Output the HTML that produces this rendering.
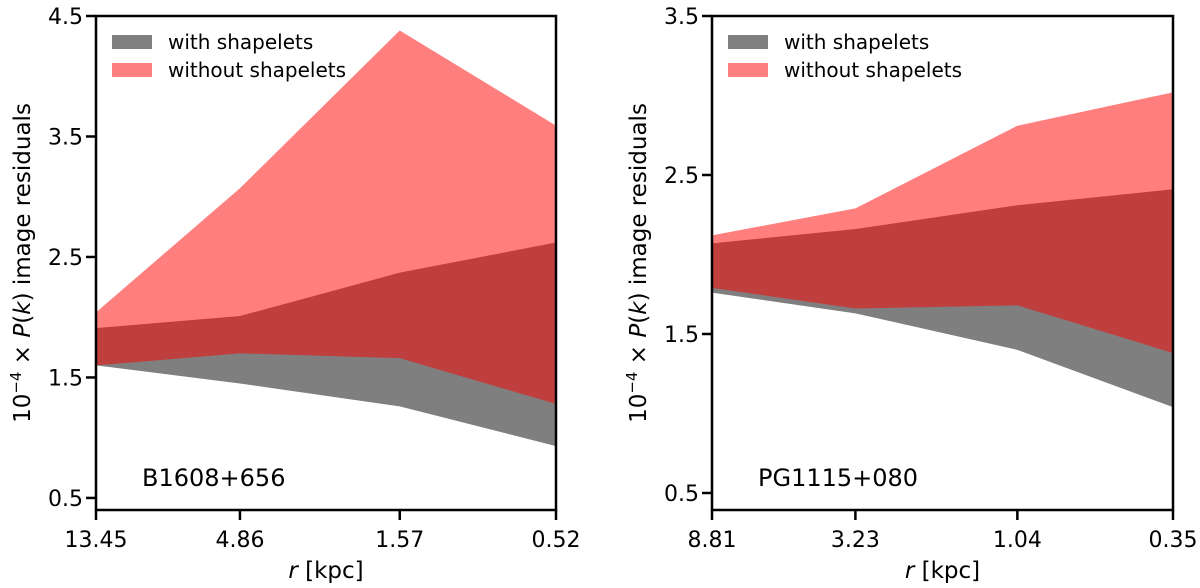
<!DOCTYPE html>
<html><head><meta charset="utf-8">
<style>
body{margin:0;background:#fff;}
svg{display:block;font-family:"DejaVu Sans","Liberation Sans",sans-serif;}
</style></head>
<body>
<svg id="c" width="1200" height="588"></svg>
<script>
// Left panel data (B1608+656)
const leftCategories = [13.45, 4.86, 1.57, 0.52];
const leftWithUpper = [1.91, 2.01, 2.37, 2.62];
const leftWithLower = [1.60, 1.45, 1.26, 0.93];
const leftWithoutUpper = [2.04, 3.07, 4.38, 3.59];
const leftWithoutLower = [1.60, 1.70, 1.66, 1.28];
const leftYTicks = [0.5, 1.5, 2.5, 3.5, 4.5];
// Right panel data (PG1115+080)
const rightCategories = [8.81, 3.23, 1.04, 0.35];
const rightWithUpper = [2.07, 2.16, 2.31, 2.41];
const rightWithLower = [1.76, 1.63, 1.40, 1.04];
const rightWithoutUpper = [2.12, 2.29, 2.81, 3.02];
const rightWithoutLower = [1.79, 1.66, 1.68, 1.38];
const rightYTicks = [0.5, 1.5, 2.5, 3.5];

const NS = "http://www.w3.org/2000/svg";
const svg = document.getElementById('c');
function mk(tag, attrs, parent){
  const e = document.createElementNS(NS, tag);
  for (const k in attrs) e.setAttribute(k, attrs[k]);
  (parent||svg).appendChild(e);
  return e;
}
function panel(cfg){
  const g = mk('g', {});
  
  
  const L=cfg.x0, R=cfg.x1, T=16, B=510;
  const lmax=Math.log10(cfg.cats[0]), lmin=Math.log10(cfg.cats[cfg.cats.length-1]);
  const xs = v => L + (lmax-Math.log10(v))/(lmax-lmin)*(R-L);
  const ys = v => T + (cfg.ymax - v)/(cfg.ymax-cfg.ymin)*(B-T);
  function band(up, lo, fill, nm){
    let pts = cfg.cats.map((c,i)=>xs(c)+','+ys(up[i]));
    pts = pts.concat(cfg.cats.map((c,i)=>xs(c)+','+ys(lo[i])).reverse());
    const p = mk('polygon', {points: pts.join(' '), fill: fill}, g);
    
    
  }
  band(cfg.wu, cfg.wl, 'rgba(0,0,0,0.5)', 'with-shapelets-band');
  band(cfg.wou, cfg.wol, 'rgba(255,0,0,0.5)', 'without-shapelets-band');
  const frame = mk('rect', {x:L, y:T, width:R-L, height:B-T, fill:'none', stroke:'#000', 'stroke-width':2.5}, g);
  
  
  cfg.yt.forEach(v=>{
    const y = ys(v);
    mk('line', {x1:L-10, x2:L, y1:y, y2:y, stroke:'#000', 'stroke-width':2.5}, g);
    const t = mk('text', {x:L-13, y:y+8, 'font-size':22, 'text-anchor':'end'}, g);
    t.textContent = v.toFixed(1);
    
    
  });
  cfg.cats.forEach(v=>{
    const x = xs(v);
    mk('line', {x1:x, x2:x, y1:B, y2:B+10, stroke:'#000', 'stroke-width':2.5}, g);
    const t = mk('text', {x:x, y:B+37, 'font-size':22, 'text-anchor':'middle'}, g);
    t.textContent = v.toFixed(2);
    
    
  });
  const xl = mk('text', {x:(L+R)/2, y:578, 'font-size':23, 'text-anchor':'middle'}, g);
  xl.innerHTML = '<tspan font-style="italic">r</tspan> [kpc]';
  
  
  const yl = mk('text', {x:0, y:0, 'font-size':23, 'text-anchor':'middle', transform:'translate('+(L-66)+','+((T+B)/2)+') rotate(-90)'}, g);
  yl.innerHTML = '10<tspan dy="-9" font-size="15">−4</tspan><tspan dy="9"> × </tspan><tspan font-style="italic">P</tspan>(<tspan font-style="italic">k</tspan>) image residuals';
  
  
  const lab = mk('text', {x:L+46, y:486, 'font-size':24}, g);
  lab.textContent = cfg.label;
  
  
  [['with shapelets','#808080',42,'legend-entry-with'],['without shapelets','#ff8080',70,'legend-entry-without']].forEach(e=>{
    const lg = mk('g', {}, g);
    
    
    mk('rect', {x:L+16, y:e[2]-7, width:40, height:14, fill:e[1]}, lg);
    const t = mk('text', {x:L+72, y:e[2]+7, 'font-size':20}, lg);
    t.textContent = e[0];
  });
}
panel({name:'b1608-panel', x0:96, x1:556, ymin:0.40, ymax:4.5, cats:leftCategories,
  wu:leftWithUpper, wl:leftWithLower, wou:leftWithoutUpper, wol:leftWithoutLower, yt:leftYTicks, label:'B1608+656'});
panel({name:'pg1115-panel', x0:712, x1:1173, ymin:0.393, ymax:3.5, cats:rightCategories,
  wu:rightWithUpper, wl:rightWithLower, wou:rightWithoutUpper, wol:rightWithoutLower, yt:rightYTicks, label:'PG1115+080'});
</script>
</body></html>
